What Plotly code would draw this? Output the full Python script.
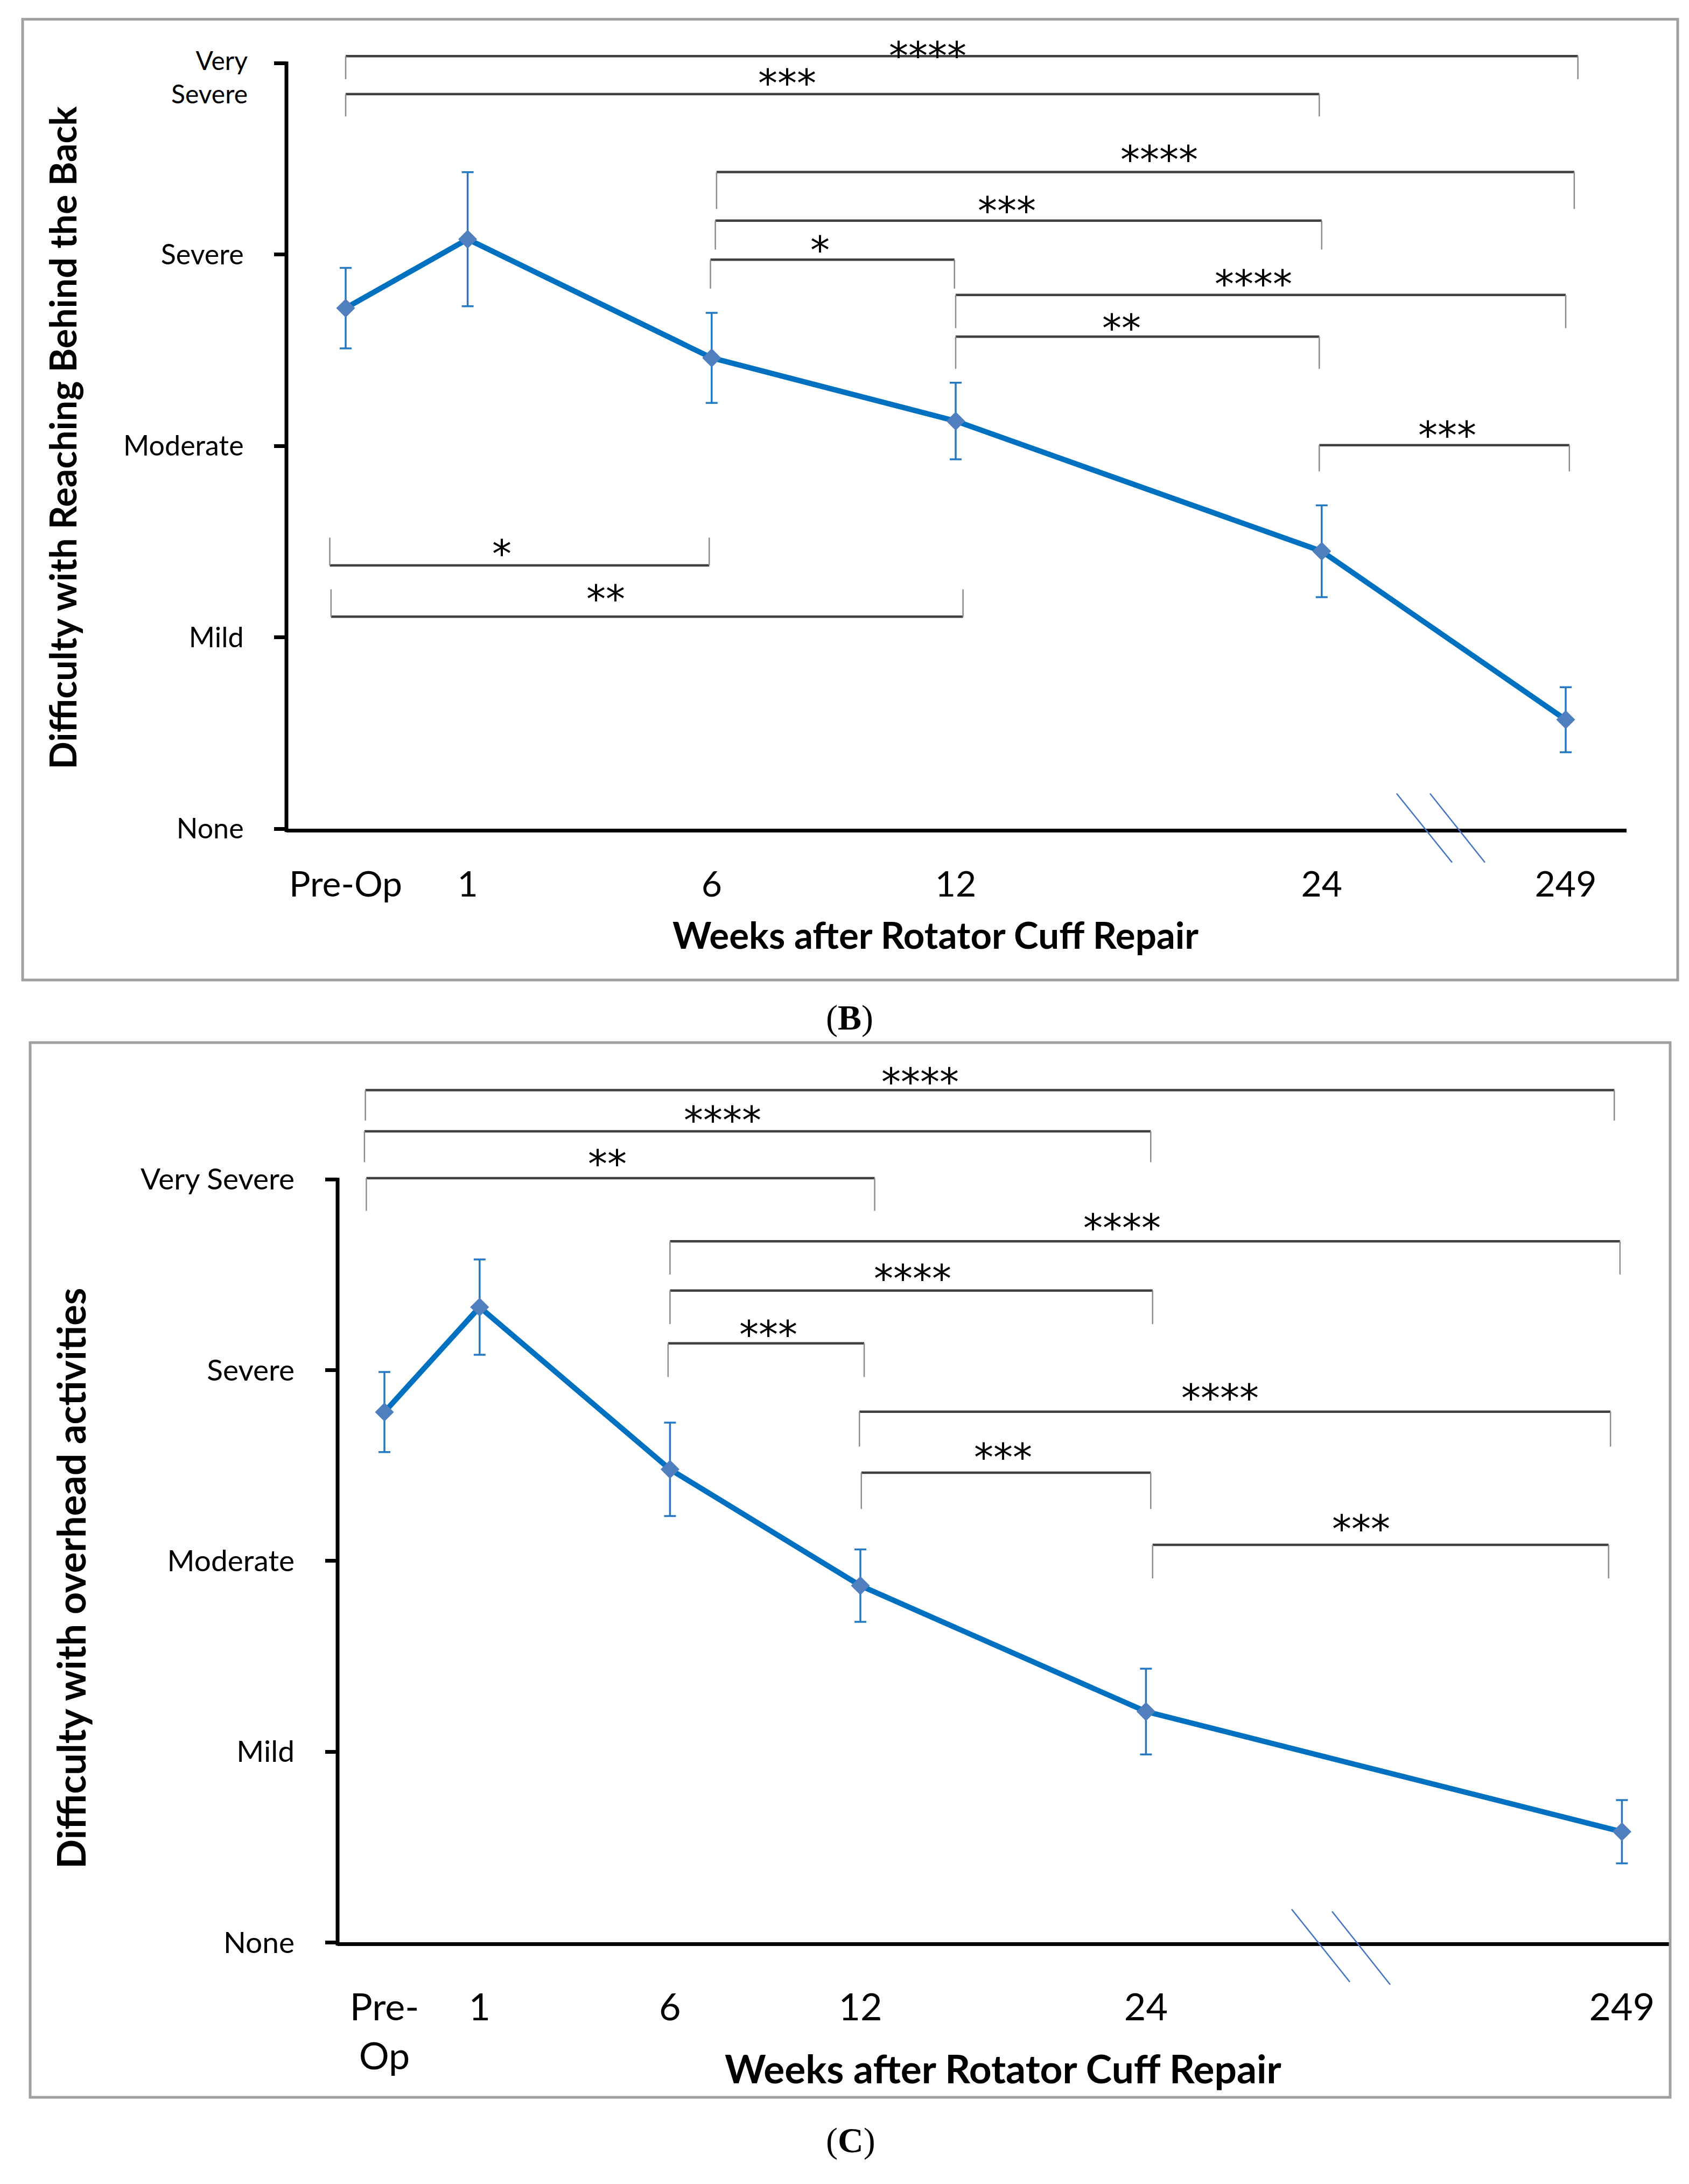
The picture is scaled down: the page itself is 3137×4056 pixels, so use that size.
import plotly.graph_objects as go

W, H = 3137, 4056

# ---------------- data ----------------
time_labels_B = ["Pre-Op", "1", "6", "12", "24", "249"]
time_labels_C = ["Pre-<br>Op", "1", "6", "12", "24", "249"]
severity_values = [0, 1, 2, 3, 4]
severity_labels_B = ["None", "Mild", "Moderate", "Severe", ""]
severity_labels_C = ["None", "Mild", "Moderate", "Severe", "Very Severe"]

# Panel B: difficulty with reaching behind the back
reach_mean = [2.72, 3.08, 2.46, 2.13, 1.45, 0.57]
reach_err = [0.21, 0.35, 0.235, 0.20, 0.24, 0.17]
# significance pairs (index from, index to, label)
reach_pairs = [(0, 5, "****"), (0, 4, "***"), (2, 5, "****"), (2, 4, "***"), (2, 3, "*"),
               (3, 5, "****"), (3, 4, "**"), (4, 5, "***"), (0, 2, "*"), (0, 3, "**")]

# Panel C: difficulty with overhead activities
overhead_mean = [2.78, 3.33, 2.48, 1.87, 1.21, 0.58]
overhead_err = [0.21, 0.25, 0.245, 0.19, 0.225, 0.166]
overhead_pairs = [(0, 5, "****"), (0, 4, "****"), (0, 3, "**"), (2, 5, "****"), (2, 4, "****"),
                  (2, 3, "***"), (3, 5, "****"), (3, 4, "***"), (4, 5, "***")]

# ---------------- layout helpers (positions / styles) ----------------
tick_pos_B = [0, 1, 3, 5, 8, 10]
tick_pos_C = [0, 1, 3, 5, 8, 13]

# bracket geometry: (line level, tick end level, label level, label x, dx0, dx1)
bracket_geo_B = [
    (4.036, 3.916, 4.075, 4.77, 0.00, 0.10),
    (3.838, 3.721, 3.933, 3.62, 0.00, -0.02),
    (3.431, 3.238, 3.534, 6.67, 0.04, 0.07),
    (3.177, 3.026, 3.266, 5.42, 0.03, 0.00),
    (2.973, 2.822, 3.062, 3.89, -0.01, -0.01),
    (2.789, 2.615, 2.883, 7.44, 0.00, 0.00),
    (2.571, 2.403, 2.652, 6.36, 0.00, -0.02),
    (2.004, 1.867, 2.094, 9.03, -0.02, 0.03),
    (1.376, 1.521, 1.474, 1.28, -0.13, -0.02),
    (1.108, 1.251, 1.237, 2.13, -0.12, 0.06),
]
bracket_geo_C = [
    (4.468, 4.308, 4.549, 5.63, -0.20, -0.08),
    (4.252, 4.090, 4.347, 3.55, -0.21, 0.05),
    (4.006, 3.835, 4.118, 2.34, -0.19, 0.15),
    (3.675, 3.501, 3.784, 7.75, 0.00, -0.02),
    (3.417, 3.241, 3.518, 5.55, 0.00, 0.07),
    (3.140, 2.964, 3.224, 4.03, -0.02, 0.04),
    (2.782, 2.599, 2.891, 8.78, -0.01, -0.12),
    (2.462, 2.272, 2.580, 6.50, 0.01, 0.05),
    (2.084, 1.908, 2.204, 10.26, 0.07, -0.14),
]

FONT = "Lato"
STAR_FONT = "DejaVu Sans"
LINE_BLUE = "#0070C0"
ERR_BLUE = "#2479C4"
MARK_BLUE = "#4F7FBF"
BRK_H = "#404040"
BRK_V = "#8C8C8C"
BOX = "#A0A0A0"


def px_x(X):
    return X / W


def px_y(Y):
    return 1 - Y / H


panels = [
    dict(xa="x", ya="y", pos=tick_pos_B, xlabels=time_labels_B, ylabels=severity_labels_B,
         mean=reach_mean, err=reach_err, pairs=reach_pairs, geo=bracket_geo_B,
         x_left=524, x_right=3013, x0=634, xu=226.6, y0=1543, yu=358.25, ytop=4.2,
         ytick_size=52, xtick_size=66, ystand=46, xstand=40),
    dict(xa="x2", ya="y2", pos=tick_pos_C, xlabels=time_labels_C, ylabels=severity_labels_C,
         mean=overhead_mean, err=overhead_err, pairs=overhead_pairs, geo=bracket_geo_C,
         x_left=619, x_right=3092, x0=706, xu=176.8, y0=3627, yu=357.0, ytop=4.7,
         ytick_size=55, xtick_size=70, ystand=46, xstand=54),
]

fig = go.Figure()
shapes = []
annotations = []
layout_axes = {}

for k, p in enumerate(panels):
    xs = [p["pos"][i] for i in range(len(p["mean"]))]
    fig.add_trace(go.Scatter(
        x=xs, y=p["mean"], xaxis=p["xa"], yaxis=p["ya"], mode="lines+markers",
        line=dict(color=LINE_BLUE, width=10),
        marker=dict(symbol="diamond", size=27, color=MARK_BLUE),
        error_y=dict(type="data", array=p["err"], visible=True, color=ERR_BLUE,
                     thickness=3.5, width=11),
        showlegend=False, hoverinfo="skip"))

    xr = [(p["x_left"] - p["x0"]) / p["xu"], (p["x_right"] - p["x0"]) / p["xu"]]
    xdom = [px_x(p["x_left"]), px_x(p["x_right"])]
    ydom = [px_y(p["y0"]), px_y(p["y0"] - p["ytop"] * p["yu"])]
    xname = "xaxis" if k == 0 else "xaxis2"
    yname = "yaxis" if k == 0 else "yaxis2"
    layout_axes[xname] = dict(
        domain=xdom, range=xr, anchor=p["ya"], showline=True, linewidth=7, linecolor="black",
        showgrid=False, zeroline=False, ticks="", tickvals=p["pos"], ticktext=p["xlabels"],
        tickfont=dict(family=FONT, size=p["xtick_size"], color="black"),
        ticklabelstandoff=p["xstand"], fixedrange=True)
    layout_axes[yname] = dict(
        domain=ydom, range=[0, p["ytop"]], anchor=p["xa"], showline=False, showgrid=False,
        zeroline=False, ticks="outside", ticklen=22, tickwidth=7, tickcolor="black",
        tickvals=severity_values, ticktext=p["ylabels"],
        tickfont=dict(family=FONT, size=p["ytick_size"], color="black"),
        ticklabelstandoff=p["ystand"], fixedrange=True)

    # y axis line (from None to top tick)
    shapes.append(dict(type="line", xref="paper", yref="paper",
                       x0=px_x(p["x_left"]), x1=px_x(p["x_left"]),
                       y0=px_y(p["y0"] + 6), y1=px_y(p["y0"] - 4 * p["yu"] - 3),
                       line=dict(color="black", width=7)))

    # significance brackets
    for (i0, i1, lab), (lv, te, ly, lx, d0, d1) in zip(p["pairs"], p["geo"]):
        xa0 = p["pos"][i0] + d0
        xa1 = p["pos"][i1] + d1
        shapes.append(dict(type="line", xref=p["xa"], yref=p["ya"], x0=xa0, x1=xa1, y0=lv, y1=lv,
                           line=dict(color=BRK_H, width=4.5)))
        for xv in (xa0, xa1):
            shapes.append(dict(type="line", xref=p["xa"], yref=p["ya"], x0=xv, x1=xv, y0=lv, y1=te,
                               line=dict(color=BRK_V, width=2.5)))
        annotations.append(dict(x=lx, y=ly, xref=p["xa"], yref=p["ya"], text=lab, showarrow=False,
                                xanchor="center", yanchor="middle", yshift=-13,
                                font=dict(family=STAR_FONT, size=72, color="black")))

# Panel B two-line "Very Severe" label
annotations.append(dict(x=px_x(454), y=px_y(136), xref="paper", yref="paper",
                        text="Very<br>Severe", align="right",
                        showarrow=False, xanchor="right", yanchor="middle",
                        font=dict(family=FONT, size=48, color="black")))

# axis titles
annotations += [
    dict(x=px_x(108), y=px_y(811), xref="paper", yref="paper", textangle=-90,
         text="<b>Difficulty with Reaching Behind the Back</b>", showarrow=False,
         xanchor="center", yanchor="middle", font=dict(family=FONT, size=68, color="black")),
    dict(x=px_x(1729), y=px_y(1741), xref="paper", yref="paper",
         text="<b>Weeks after Rotator Cuff Repair</b>", showarrow=False,
         xanchor="center", yanchor="middle", font=dict(family=FONT, size=69, color="black")),
    dict(x=px_x(123), y=px_y(2946), xref="paper", yref="paper", textangle=-90,
         text="<b>Difficulty with overhead activities</b>", showarrow=False,
         xanchor="center", yanchor="middle", font=dict(family=FONT, size=72, color="black")),
    dict(x=px_x(1855), y=px_y(3863), xref="paper", yref="paper",
         text="<b>Weeks after Rotator Cuff Repair</b>", showarrow=False,
         xanchor="center", yanchor="middle", font=dict(family=FONT, size=73, color="black")),
    dict(x=px_x(1570), y=px_y(1896), xref="paper", yref="paper", text="(<b>B</b>)",
         showarrow=False, xanchor="center", yanchor="middle",
         font=dict(family="Liberation Serif", size=66, color="black")),
    dict(x=px_x(1572), y=px_y(3998), xref="paper", yref="paper", text="(<b>C</b>)",
         showarrow=False, xanchor="center", yanchor="middle",
         font=dict(family="Liberation Serif", size=66, color="black")),
]

# panel frames
for (bx0, by0, bx1, by1) in [(34, 28, 3108, 1826), (48, 1943, 3094, 3917)]:
    shapes.append(dict(type="rect", xref="paper", yref="paper", x0=px_x(bx0), x1=px_x(bx1),
                       y0=px_y(by1), y1=px_y(by0), line=dict(color=BOX, width=5)))

# axis break marks
for (ax0, ay0, ax1, ay1) in [(2586, 1477, 2689, 1606), (2648, 1477, 2750, 1606),
                             (2391, 3565, 2499, 3701), (2466, 3569, 2574, 3706)]:
    shapes.append(dict(type="line", xref="paper", yref="paper", x0=px_x(ax0), y0=px_y(ay0),
                       x1=px_x(ax1), y1=px_y(ay1), line=dict(color="#4472C4", width=2.5)))

fig.update_layout(
    width=W, height=H, margin=dict(l=0, r=0, t=0, b=0),
    paper_bgcolor="white", plot_bgcolor="rgba(0,0,0,0)",
    shapes=shapes, annotations=annotations, showlegend=False,
    **layout_axes)

fig.write_html("out.html")
